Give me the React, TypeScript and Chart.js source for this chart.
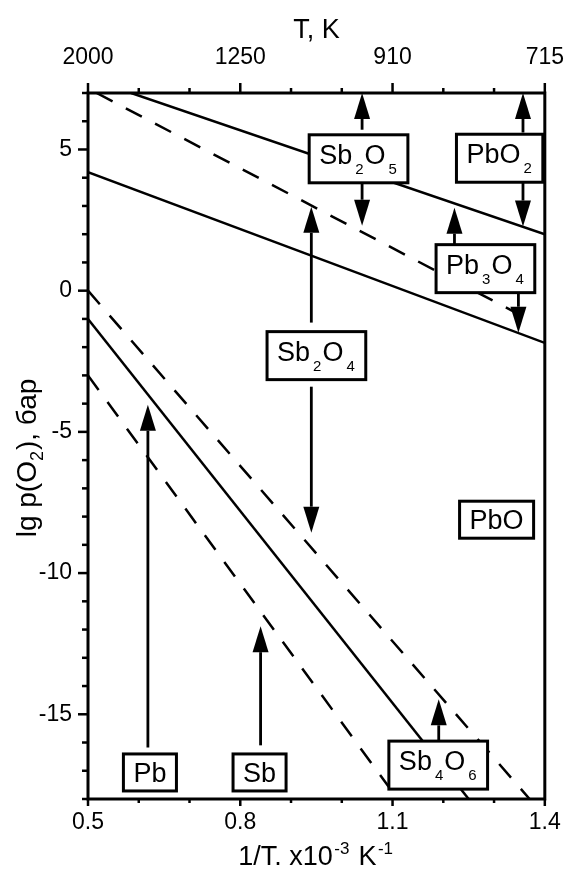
import React, { useEffect, useRef } from 'react';
import { Chart, registerables } from 'chart.js';

Chart.register(...registerables);

// ---- axes ----
const xMin = 0.5;
const xMax = 1.4;
const yMin = -18;
const yMax = 7;
const bottomTickValues = [0.5, 0.8, 1.1, 1.4];
const bottomTickLabels = ['0.5', '0.8', '1.1', '1.4'];
const topTickLabels = ['2000', '1250', '910', '715'];
const leftTickValues = [-15, -10, -5, 0, 5];
const topTitle = 'T, K';

// ---- equilibrium lines (two end points each) ----
const lineNames = ['PbO2/Pb3O4', 'Sb2O5/Sb2O4', 'Pb3O4/PbO', 'Sb2O4/Sb4O6', 'Pb/PbO', 'Sb/Sb4O6'];
const lineX1 = [0.585, 0.517, 0.5, 0.5, 0.5, 0.5];
const lineY1 = [7, 7, 4.2, 0, -1, -3];
const lineX2 = [1.4, 1.377, 1.4, 1.37, 1.25, 1.11];
const lineY2 = [2.0, -1.1, -1.85, -18, -18, -18];
const lineDashed = [false, true, false, true, false, true];

// ---- phase labels (data coordinates of box centres) ----
const phaseNames = ['Sb_2O_5', 'PbO_2', 'Pb_3O_4', 'Sb_2O_4', 'PbO', 'Pb', 'Sb', 'Sb_4O_6'];
const phaseX = [1.033, 1.311, 1.283, 0.95, 1.305, 0.622, 0.838, 1.19];
const phaseY = [4.67, 4.69, 0.78, -2.3, -8.11, -17.06, -17.06, -16.8];

// ---- arrows (x, from, to) ----
const arrowX = [1.04, 1.04, 1.357, 1.357, 1.222, 1.348, 0.94, 0.94, 0.618, 0.84, 1.191];
const arrowFrom = [5.7, 3.78, 5.6, 3.82, 1.63, -0.07, -1.13, -3.4, -16.18, -16.1, -16.0];
const arrowTo = [7, 2.3, 7, 2.27, 2.94, -1.49, 2.97, -8.57, -4.04, -11.88, -14.47];

const FONT = '"Liberation Sans", Arial, Helvetica, sans-serif';

type Seg = { t: string; sub: boolean };
function parseLabel(s: string): Seg[] {
  const segs: Seg[] = [];
  let i = 0;
  let cur = '';
  while (i < s.length) {
    if (s[i] === '_') {
      if (cur) segs.push({ t: cur, sub: false });
      cur = '';
      segs.push({ t: s[i + 1], sub: true });
      i += 2;
    } else {
      cur += s[i];
      i += 1;
    }
  }
  if (cur) segs.push({ t: cur, sub: false });
  return segs;
}

function fmt(values: number[], labels: string[], v: number) {
  const i = values.findIndex((t) => Math.abs(t - v) < 1e-6);
  return i >= 0 ? labels[i] : '';
}

const plugin = {
  id: 'phaseDiagram',
  afterDatasetsDraw(chart: any) {
    const ctx = chart.ctx as CanvasRenderingContext2D;
    const xs = chart.scales.x;
    const ys = chart.scales.y;
    ctx.save();
    ctx.strokeStyle = '#000';
    ctx.fillStyle = '#000';
    // arrows
    for (let i = 0; i < arrowX.length; i++) {
      const px = xs.getPixelForValue(arrowX[i]);
      const p0 = ys.getPixelForValue(arrowFrom[i]);
      const p1 = ys.getPixelForValue(arrowTo[i]);
      const dir = p1 < p0 ? -1 : 1;
      const headLen = 26;
      const headHalf = 8;
      const base = p1 - dir * headLen;
      ctx.lineWidth = 2.8;
      ctx.beginPath();
      ctx.moveTo(px, p0);
      ctx.lineTo(px, base);
      ctx.stroke();
      ctx.beginPath();
      ctx.moveTo(px, p1);
      ctx.lineTo(px - headHalf, base);
      ctx.lineTo(px + headHalf, base);
      ctx.closePath();
      ctx.fill();
    }
    // boxes
    const mainF = `27px ${FONT}`;
    const subF = `15px ${FONT}`;
    for (let i = 0; i < phaseNames.length; i++) {
      const segs = parseLabel(phaseNames[i]);
      const hasSub = segs.some((s) => s.sub);
      let w = 0;
      const widths: number[] = [];
      segs.forEach((s) => {
        ctx.font = s.sub ? subF : mainF;
        const m = ctx.measureText(s.t).width + (s.sub ? 4 : 0);
        widths.push(m);
        w += m;
      });
      const pad = 10;
      const bw = w + pad * 2;
      const bh = hasSub ? 48 : 37;
      const cx = xs.getPixelForValue(phaseX[i]);
      const cy = ys.getPixelForValue(phaseY[i]);
      const left = cx - bw / 2;
      const top = cy - bh / 2;
      ctx.fillStyle = '#fff';
      ctx.fillRect(left, top, bw, bh);
      ctx.lineWidth = 3;
      ctx.strokeStyle = '#000';
      ctx.strokeRect(left, top, bw, bh);
      ctx.fillStyle = '#000';
      const baseLine = top + (hasSub ? 29 : 28);
      let x = left + pad;
      ctx.textBaseline = 'alphabetic';
      ctx.textAlign = 'left';
      segs.forEach((s, k) => {
        ctx.font = s.sub ? subF : mainF;
        if (s.sub) ctx.fillText(s.t, x + 3, baseLine + 10);
        else ctx.fillText(s.t, x, baseLine);
        x += widths[k];
      });
    }
    ctx.restore();
  },
  afterDraw(chart: any) {
    const ctx = chart.ctx as CanvasRenderingContext2D;
    const { left, right, top, bottom } = chart.chartArea;
    const xs = chart.scales.x;
    const xt = chart.scales.x2;
    const ys = chart.scales.y;
    ctx.save();
    ctx.strokeStyle = '#000';
    ctx.fillStyle = '#000';
    // frame
    ctx.lineWidth = 3;
    ctx.strokeRect(left, top, right - left, bottom - top);
    // ticks
    ctx.lineWidth = 2.5;
    ys.ticks.forEach((t: any) => {
      const py = ys.getPixelForValue(t.value);
      const major = leftTickValues.some((v) => Math.abs(v - t.value) < 1e-6);
      const len = major ? 10 : 6;
      ctx.beginPath();
      ctx.moveTo(left - len, py);
      ctx.lineTo(left, py);
      ctx.stroke();
    });
    xs.ticks.forEach((t: any) => {
      const px = xs.getPixelForValue(t.value);
      const major = bottomTickValues.some((v) => Math.abs(v - t.value) < 1e-6);
      const len = major ? 7 : 4;
      ctx.beginPath();
      ctx.moveTo(px, bottom);
      ctx.lineTo(px, bottom + len);
      ctx.stroke();
    });
    xt.ticks.forEach((t: any) => {
      const px = xt.getPixelForValue(t.value);
      const major = bottomTickValues.some((v) => Math.abs(v - t.value) < 1e-6);
      const len = major ? 10 : 5;
      ctx.beginPath();
      ctx.moveTo(px, top);
      ctx.lineTo(px, top - len);
      ctx.stroke();
    });
    // titles
    const tf = `27px ${FONT}`;
    const sf = `17px ${FONT}`;
    ctx.textBaseline = 'alphabetic';
    // top
    ctx.font = tf;
    ctx.textAlign = 'center';
    ctx.fillText(topTitle, (left + right) / 2, 38);
    // bottom: 1/T. x10^-3 K^-1
    const bsegs: [string, boolean][] = [['1/T. x10', false], ['-3', true], [' K', false], ['-1', true]];
    ctx.textAlign = 'left';
    let bw = 0;
    const bws: number[] = [];
    bsegs.forEach(([s, sup]) => {
      ctx.font = sup ? sf : tf;
      const m = ctx.measureText(s).width + (sup ? 3 : 0);
      bws.push(m);
      bw += m;
    });
    let bx = (left + right) / 2 - bw / 2;
    bsegs.forEach(([s, sup], k) => {
      ctx.font = sup ? sf : tf;
      ctx.fillText(s, bx + (sup ? 1.5 : 0), sup ? 854 : 865);
      bx += bws[k];
    });
    // left: lg p(O2), бар
    const lf = `28px ${FONT}`;
    const lsf = `18px ${FONT}`;
    const lsegs: [string, boolean][] = [['lg p(O', false], ['2', true], ['), бар', false]];
    let lw = 0;
    const lws: number[] = [];
    lsegs.forEach(([s, sub]) => {
      ctx.font = sub ? lsf : lf;
      const m = ctx.measureText(s).width + (sub ? 1 : 0);
      lws.push(m);
      lw += m;
    });
    ctx.translate(36, (top + bottom) / 2 + 12);
    ctx.rotate(-Math.PI / 2);
    let lx = -lw / 2;
    lsegs.forEach(([s, sub], k) => {
      ctx.font = sub ? lsf : lf;
      ctx.fillText(s, lx, sub ? 7 : 0);
      lx += lws[k];
    });
    ctx.restore();
  },
};

export default function App() {
  const ref = useRef<HTMLCanvasElement>(null);
  useEffect(() => {
    document.body.style.margin = '0';
    const canvas = ref.current;
    if (!canvas) return;
    const tickFont = { family: FONT, size: 23 };
    const chart = new Chart(canvas, {
      type: 'scatter',
      data: {
        datasets: lineNames.map((n, i) => ({
          label: n,
          data: [
            { x: lineX1[i], y: lineY1[i] },
            { x: lineX2[i], y: lineY2[i] },
          ],
          showLine: true,
          borderColor: '#000',
          backgroundColor: '#000',
          borderWidth: 2.5,
          borderDash: lineDashed[i] ? [18, 15] : [],
          pointRadius: 0,
          pointHoverRadius: 0,
          fill: false,
        })),
      },
      options: {
        responsive: false,
        animation: false,
        devicePixelRatio: 1,
        events: [],
        layout: { padding: { left: 0, right: 21, top: 0, bottom: 0 } },
        plugins: { legend: { display: false }, tooltip: { enabled: false } },
        scales: {
          x: {
            type: 'linear',
            axis: 'x',
            position: 'bottom',
            min: xMin,
            max: xMax,
            ticks: {
              stepSize: 0.1,
              autoSkip: false,
              maxRotation: 0,
              color: '#000',
              font: tickFont,
              padding: 5,
              callback: (v: any) => fmt(bottomTickValues, bottomTickLabels, Number(v)),
            },
            grid: { display: true, drawOnChartArea: false, drawTicks: true, tickLength: 5, color: 'rgba(0,0,0,0)', tickColor: 'rgba(0,0,0,0)' },
            border: { display: false },
            afterFit: (s: any) => { s.height = 71; },
          },
          x2: {
            type: 'linear',
            axis: 'x',
            position: 'top',
            min: xMin,
            max: xMax,
            ticks: {
              stepSize: 0.1,
              autoSkip: false,
              maxRotation: 0,
              color: '#000',
              font: tickFont,
              padding: 12,
              callback: (v: any) => fmt(bottomTickValues, topTickLabels, Number(v)),
            },
            grid: { display: true, drawOnChartArea: false, drawTicks: true, tickLength: 10, color: 'rgba(0,0,0,0)', tickColor: 'rgba(0,0,0,0)' },
            border: { display: false },
            afterFit: (s: any) => { s.height = 93; },
          },
          y: {
            type: 'linear',
            axis: 'y',
            position: 'left',
            min: yMin,
            max: yMax,
            ticks: {
              stepSize: 1,
              autoSkip: false,
              color: '#000',
              font: tickFont,
              padding: 7,
              callback: (v: any) => fmt(leftTickValues, leftTickValues.map(String), Number(v)),
            },
            grid: { display: true, drawOnChartArea: false, drawTicks: true, tickLength: 9, color: 'rgba(0,0,0,0)', tickColor: 'rgba(0,0,0,0)' },
            border: { display: false },
            afterFit: (s: any) => { s.width = 88; },
          },
        },
      },
      plugins: [plugin],
    } as any);
    return () => chart.destroy();
  }, []);
  return (
    <div style={{ width: 576, height: 870, background: '#fff' }}>
      <canvas ref={ref} width={576} height={870} style={{ display: 'block' }} />
    </div>
  );
}
